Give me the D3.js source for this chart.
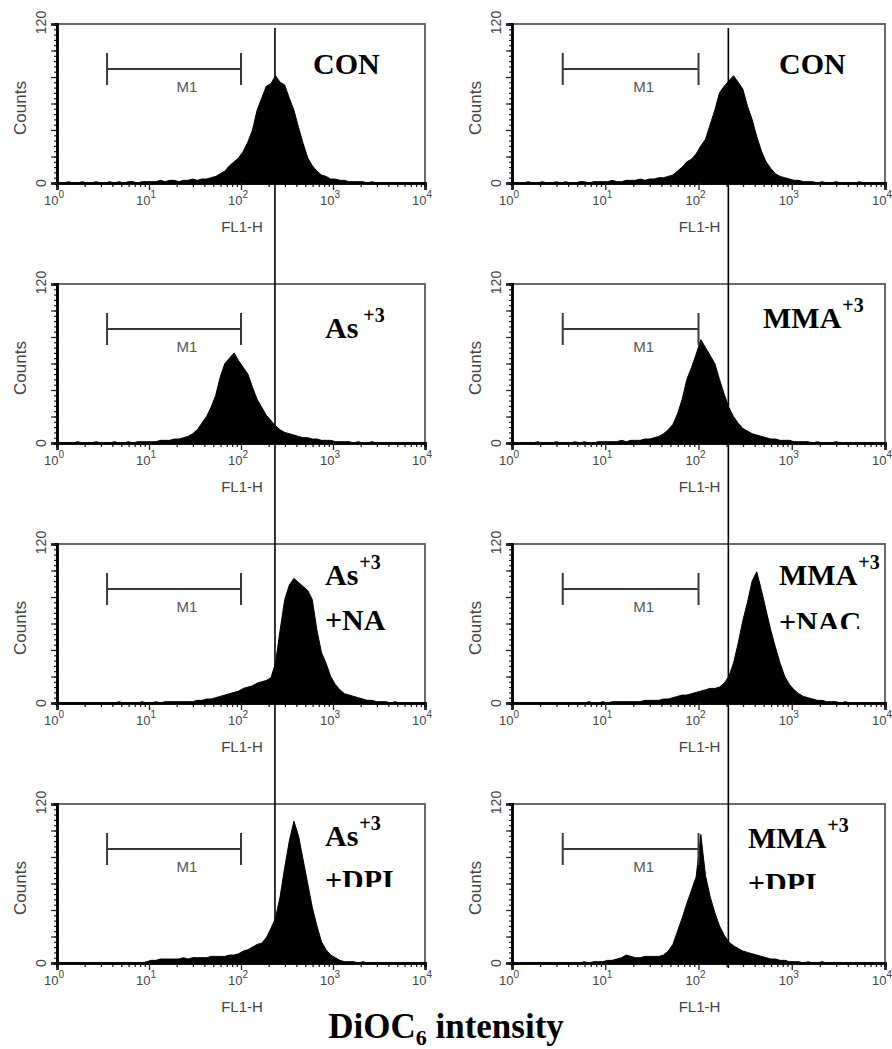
<!DOCTYPE html>
<html>
<head>
<meta charset="utf-8">
<script src="https://cdn.jsdelivr.net/npm/d3@7/dist/d3.min.js"></script>
<style>
  body { margin: 0; background: #fff; }
  svg { display: block; }
</style>
</head>
<body>
<div id="chart"></div>
<script>
const width = 892;
const height = 1049;

// histogram counts, 20 channels per decade (10^0 .. 10^4)
const conLeft = [
  0,0,1,0,0,1,0,0,1,0,0,1,0,1,0,1,1,0,1,1,
  1,1,2,1,2,2,1,2,2,3,2,3,3,4,5,7,9,13,16,19,
  24,31,40,55,64,73,75,81,76,74,64,55,42,30,19,13,9,6,5,3,
  3,2,2,1,1,1,1,0,1,0,0,0,0,0,0,0,0,0,0,0
];
const conRight = [
  0,0,0,1,0,0,1,0,0,1,0,1,0,0,1,1,0,1,1,1,
  1,2,1,1,2,2,2,3,2,3,3,4,4,5,6,9,12,16,18,22,
  28,33,44,55,68,73,77,81,76,71,58,48,35,24,16,11,7,5,4,3,
  2,2,1,1,1,0,1,0,0,1,0,0,0,0,1,0,0,0,0,0
];
const asLeft = [
  0,0,0,0,1,0,0,0,1,0,0,0,1,0,0,1,0,1,1,1,
  1,1,2,2,2,3,3,4,5,7,10,15,20,27,36,50,60,64,68,62,
  57,52,42,33,27,21,17,13,10,8,7,6,5,4,4,3,3,2,2,2,
  1,1,1,1,0,1,0,0,1,0,0,0,0,0,0,0,0,0,0,0
];
const mmaRight = [
  0,0,0,0,0,1,0,0,0,1,0,0,0,1,0,1,0,0,1,1,
  1,1,1,2,1,2,2,2,3,3,4,5,7,10,14,22,33,48,57,67,
  78,72,66,60,48,37,27,20,15,11,9,7,6,5,4,3,3,2,2,2,
  1,1,1,1,0,1,0,0,0,1,0,0,0,0,0,0,0,0,0,0
];
const asNacLeft = [
  0,0,0,0,0,0,0,0,0,0,0,0,0,1,0,0,0,0,1,0,
  0,1,0,1,1,1,1,1,1,1,2,2,3,3,4,5,6,7,8,9,
  11,12,13,15,16,17,19,30,55,78,89,94,91,88,85,78,55,38,30,20,
  14,10,7,6,5,4,3,2,2,1,1,1,0,1,0,0,0,0,0,0
];
const mmaNacRight = [
  0,0,0,0,0,0,0,0,0,0,0,0,0,0,0,0,1,0,0,1,
  0,1,1,1,1,1,1,1,2,2,2,2,3,3,4,5,6,6,7,8,
  9,10,11,11,12,15,20,30,45,62,76,92,99,85,70,55,42,30,20,14,
  10,7,5,4,3,2,2,1,1,1,0,1,0,0,0,0,0,0,0,0
];
const asDpiLeft = [
  0,0,0,0,0,0,0,0,0,0,0,0,0,0,0,0,0,0,0,1,
  2,2,3,3,3,3,3,4,3,4,4,4,4,5,5,5,5,6,6,7,
  9,10,12,14,15,19,26,34,50,72,92,107,96,78,60,42,28,16,10,6,
  4,2,1,1,1,0,1,0,0,0,0,0,0,0,0,0,0,0,0,0
];
const mmaDpiRight = [
  0,0,0,0,0,0,0,0,0,0,0,0,0,0,0,1,0,1,1,1,
  2,2,3,4,6,5,4,4,5,5,5,5,6,9,14,24,34,45,55,65,
  97,66,50,38,28,21,16,13,11,9,8,7,6,5,4,3,3,2,2,1,
  1,1,0,1,0,0,1,0,0,0,0,0,0,0,0,0,0,0,0,0
];

const histograms = [conLeft, conRight, asLeft, mmaRight, asNacLeft, mmaNacRight, asDpiLeft, mmaDpiRight];
const titles = ["CON", "CON", "As", "MMA", "As", "MMA", "As", "MMA"];
const superscripts = ["", "", "+3", "+3", "+3", "+3", "+3", "+3"];
const secondLines = ["", "", "", "", "+NA", "+NAC", "+DPI", "+DPI"];

const decades = [1, 10, 100, 1000, 10000];
const decadeExp = ["0", "1", "2", "3", "4"];
const countTicks = [0, 120];
const markerM1 = [3.5, 100];
const refLine = [234, 209];   // DiOC6 reference value per column

// layout
const cols = [[57, 425], [512, 885]];
const rowTops = [24, 284, 544, 804];
const plotH = 159;
const labelLayout = [
  {x: 313, y: 74},
  {x: 779, y: 74},
  {x: 325, y: 338, gap: 5},
  {x: 763, y: 328},
  {x: 325, y: 585, y2: 630},
  {x: 779, y: 585, y2: 632, clip: 629},
  {x: 325, y: 846, y2: 890, clip: 887},
  {x: 748, y: 848, y2: 893, clip: 889}
];

const svg = d3.select("#chart")
  .append("svg")
  .attr("width", width)
  .attr("height", height)
  .attr("viewBox", `0 0 ${width} ${height}`);

svg.append("rect").attr("width", width).attr("height", height).attr("fill", "#fff");

const axisFont = "'Liberation Sans', Arial, sans-serif";
const labelFont = "'Liberation Serif', 'Times New Roman', serif";
const axisColor = "#444";

function drawPanel(i) {
  const col = i % 2;
  const row = Math.floor(i / 2);
  const [x0, x1] = cols[col];
  const top = rowTops[row];
  const base = top + plotH;

  const xs = d3.scaleLog().domain([1, 1e4]).range([x0, x1]);
  const ys = d3.scaleLinear().domain([0, 120]).range([base, top]);

  const g = svg.append("g").attr("class", "panel");

  // frame (top and right drawn grey)
  g.append("rect")
    .attr("x", x0).attr("y", top)
    .attr("width", x1 - x0).attr("height", plotH)
    .attr("fill", "none")
    .attr("stroke", "#6a6a6a")
    .attr("stroke-width", 2);

  // histogram, one point per channel centre
  const counts = histograms[i];
  const pts = counts.map((c, k) => ({x: Math.pow(10, (k + 0.5) / 20), y: c}));
  pts.unshift({x: 1, y: counts[0]});
  pts.push({x: 1e4, y: counts[counts.length - 1]});
  const area = d3.area()
    .x(d => xs(d.x))
    .y0(ys(0))
    .y1(d => ys(d.y));
  g.append("path")
    .datum(pts)
    .attr("d", area)
    .attr("fill", "#000")
    .attr("stroke", "#000")
    .attr("stroke-width", 1);

  // x axis: minor log ticks, then decade ticks
  const minors = [];
  decades.slice(0, 4).forEach(d => {
    for (let m = 2; m <= 9; m++) minors.push(d * m);
  });
  const xMinor = g.append("g")
    .attr("transform", `translate(0,${base})`)
    .call(d3.axisBottom(xs).tickValues(minors).tickSize(4).tickFormat(""));
  const xMajor = g.append("g")
    .attr("transform", `translate(0,${base})`)
    .call(d3.axisBottom(xs).tickValues(decades).tickSize(7).tickFormat(""));
  [xMinor, xMajor].forEach(ax => {
    ax.select(".domain").attr("stroke", "#000").attr("stroke-width", 2.5);
    ax.selectAll(".tick line").attr("stroke", "#222").attr("stroke-width", 1.3);
  });

  const xl = g.selectAll(".xlab")
    .data(decades)
    .enter()
    .append("text")
    .attr("class", "xlab")
    .attr("x", d => xs(d) - 3)
    .attr("y", base + 22)
    .attr("text-anchor", "middle")
    .attr("font-family", axisFont)
    .attr("font-size", 13)
    .attr("fill", axisColor);
  xl.append("tspan").text("10");
  xl.append("tspan")
    .attr("dy", -7)
    .attr("font-size", 10)
    .text((d, k) => decadeExp[k]);

  g.append("text")
    .attr("x", xs(100) + 1)
    .attr("y", base + 49)
    .attr("text-anchor", "middle")
    .attr("font-family", axisFont)
    .attr("font-size", 15)
    .attr("fill", axisColor)
    .text("FL1-H");

  // y axis
  const yMinor = g.append("g")
    .attr("transform", `translate(${x0},0)`)
    .call(d3.axisLeft(ys).tickValues(d3.range(0, 121, 4)).tickSize(3).tickFormat(""));
  const yMajor = g.append("g")
    .attr("transform", `translate(${x0},0)`)
    .call(d3.axisLeft(ys).tickValues(d3.range(0, 121, 20)).tickSize(6).tickFormat(""));
  [yMinor, yMajor].forEach(ax => {
    ax.select(".domain").attr("stroke", "#000").attr("stroke-width", 2.5);
    ax.selectAll(".tick line").attr("stroke", "#222").attr("stroke-width", 1.2);
  });

  g.selectAll(".ylab")
    .data(countTicks)
    .enter()
    .append("text")
    .attr("class", "ylab")
    .attr("transform", d => `translate(${x0 - 11},${ys(d) - (d ? 1.5 : 0)}) rotate(-90)`)
    .attr("text-anchor", "middle")
    .attr("font-family", axisFont)
    .attr("font-size", 14)
    .attr("fill", axisColor)
    .text(d => d);

  g.append("text")
    .attr("transform", `translate(${x0 - 31},${top + 84}) rotate(-90)`)
    .attr("text-anchor", "middle")
    .attr("font-family", axisFont)
    .attr("font-size", 17)
    .attr("fill", axisColor)
    .text("Counts");

  // M1 marker
  const my = top + 45;
  const mx0 = xs(markerM1[0]);
  const mx1 = xs(markerM1[1]);
  const marker = g.append("g").attr("stroke", "#3a3a3a").attr("stroke-width", 2);
  marker.append("line").attr("x1", mx0).attr("x2", mx1).attr("y1", my).attr("y2", my);
  marker.append("line").attr("x1", mx0).attr("x2", mx0).attr("y1", my - 16).attr("y2", my + 16);
  marker.append("line").attr("x1", mx1).attr("x2", mx1).attr("y1", my - 16).attr("y2", my + 16);
  g.append("text")
    .attr("x", (mx0 + mx1) / 2 + 13)
    .attr("y", top + 68)
    .attr("text-anchor", "middle")
    .attr("font-family", axisFont)
    .attr("font-size", 15)
    .attr("fill", "#555")
    .text("M1");

  // treatment label
  const lay = labelLayout[i];
  const lab = g.append("text")
    .attr("x", lay.x)
    .attr("y", lay.y)
    .attr("font-family", labelFont)
    .attr("font-weight", "bold")
    .attr("font-size", 30)
    .attr("fill", "#000");
  lab.append("tspan").text(titles[i]);
  if (superscripts[i]) {
    lab.append("tspan")
      .attr("dx", lay.gap || 1)
      .attr("dy", -16)
      .attr("font-size", 20)
      .text(superscripts[i]);
  }
  if (secondLines[i]) {
    const line2 = g.append("text")
      .attr("x", lay.x)
      .attr("y", lay.y2)
      .attr("font-family", labelFont)
      .attr("font-weight", "bold")
      .attr("font-size", 30)
      .attr("fill", "#000")
      .text(secondLines[i]);
    if (lay.clip) {
      const id = `clip${i}`;
      svg.append("clipPath").attr("id", id)
        .append("rect")
        .attr("x", lay.x - 5).attr("y", lay.y2 - 40)
        .attr("width", 120).attr("height", lay.clip - (lay.y2 - 40));
      line2.attr("clip-path", `url(#${id})`);
    }
  }

  return {xs, ys};
}

const scales = histograms.map((h, i) => drawPanel(i));

// vertical reference lines through each column
[0, 1].forEach(col => {
  const xs = scales[col].xs;
  const x = xs(refLine[col]);
  svg.append("line")
    .attr("x1", x).attr("x2", x)
    .attr("y1", rowTops[0] + 4)
    .attr("y2", rowTops[3] + plotH + (col ? 5 : 0))
    .attr("stroke", "#000")
    .attr("stroke-width", 1.6);
});

// bottom title
const title = svg.append("text")
  .attr("x", 446)
  .attr("y", 1038)
  .attr("text-anchor", "middle")
  .attr("font-family", labelFont)
  .attr("font-weight", "bold")
  .attr("font-size", 35)
  .attr("fill", "#000");
title.append("tspan").text("DiOC");
title.append("tspan").attr("dy", 7).attr("font-size", 22).text("6");
title.append("tspan").attr("dy", -7).text(" intensity");
</script>
</body>
</html>
